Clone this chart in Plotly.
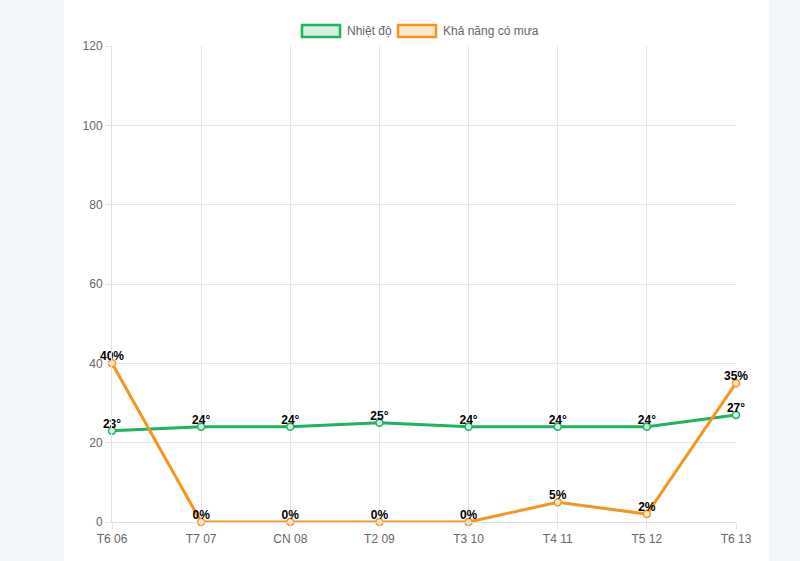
import plotly.graph_objects as go

days = ["T6 06", "T7 07", "CN 08", "T2 09", "T3 10", "T4 11", "T5 12", "T6 13"]
temperature = [23, 24, 24, 25, 24, 24, 24, 27]
rain_chance = [40, 0, 0, 0, 0, 5, 2, 35]
temp_name = "Nhiệt độ"
rain_name = "Khả năng có mưa"

GREEN = "#1db35f"
GREEN_FILL = "#d4f0de"
ORANGE = "#f7941d"
ORANGE_FILL = "#fde8cc"
FONT = "Liberation Sans, Arial, sans-serif"

W, H = 800, 561
L, R, T, B = 112, 64, 46, 39
pw, ph = W - L - R, H - T - B

def px(x):
    return (x - L) / pw

def py(y):
    return (H - B - y) / ph

fig = go.Figure()

for vals, name, col, fill, suffix in [
    (temperature, temp_name, GREEN, GREEN_FILL, "°"),
    (rain_chance, rain_name, ORANGE, ORANGE_FILL, "%"),
]:
    fig.add_trace(go.Scatter(
        x=days, y=vals, name=name, mode="lines+markers",
        line=dict(color=col, width=3),
        marker=dict(size=7, color=fill, line=dict(color=col, width=1.5)),
        cliponaxis=False, showlegend=False,
    ))

for vals, suffix in [(temperature, "°"), (rain_chance, "%")]:
    fig.add_trace(go.Scatter(
        x=days, y=vals, mode="text",
        text=[f"{v}{suffix}" for v in vals],
        textposition="top center",
        textfont=dict(family=FONT, size=12, color="#000000", weight="bold"),
        cliponaxis=False, showlegend=False, hoverinfo="skip",
    ))

shapes = [
    dict(type="rect", xref="paper", yref="paper", x0=px(0), x1=px(64), y0=py(H), y1=py(0),
         fillcolor="#f3f6f8", line=dict(width=0), layer="below"),
    dict(type="rect", xref="paper", yref="paper", x0=px(769), x1=px(W), y0=py(H), y1=py(0),
         fillcolor="#f3f6f8", line=dict(width=0), layer="below"),
    dict(type="rect", xref="paper", yref="paper", x0=px(302), x1=px(340), y0=py(37), y1=py(25),
         fillcolor=GREEN_FILL, line=dict(color=GREEN, width=2.5)),
    dict(type="rect", xref="paper", yref="paper", x0=px(398), x1=px(436), y0=py(37), y1=py(25),
         fillcolor=ORANGE_FILL, line=dict(color=ORANGE, width=2.5)),
]
annotations = [
    dict(xref="paper", yref="paper", x=px(345), y=py(31), text=temp_name, showarrow=False,
         xanchor="left", yanchor="middle", font=dict(family=FONT, size=12, color="#666666")),
    dict(xref="paper", yref="paper", x=px(441), y=py(31), text=rain_name, showarrow=False,
         xanchor="left", yanchor="middle", font=dict(family=FONT, size=12, color="#666666")),
]

fig.update_layout(
    width=W, height=H,
    margin=dict(l=L, r=R, t=T, b=B),
    paper_bgcolor="#ffffff", plot_bgcolor="#ffffff",
    font=dict(family=FONT, size=12, color="#666666"),
    shapes=shapes, annotations=annotations,
    xaxis=dict(range=[0, 7], showgrid=True, gridcolor="#e5e5e5", gridwidth=1,
               showline=True, linecolor="#e0e0e0", mirror=False, zeroline=False,
               ticks="outside", ticklen=6, tickcolor="#e5e5e5",
               tickfont=dict(family=FONT, size=12, color="#666666")),
    yaxis=dict(range=[0, 120], dtick=20, showgrid=True, gridcolor="#e5e5e5", gridwidth=1,
               showline=True, linecolor="#e0e0e0", zeroline=False,
               ticks="outside", ticklen=6, tickcolor="#e5e5e5",
               tickfont=dict(family=FONT, size=12, color="#666666")),
)

fig.write_html(
    "out.html",
    config={"displayModeBar": False},
    post_script="document.body.style.margin='0';document.body.style.overflow='hidden';",
)
